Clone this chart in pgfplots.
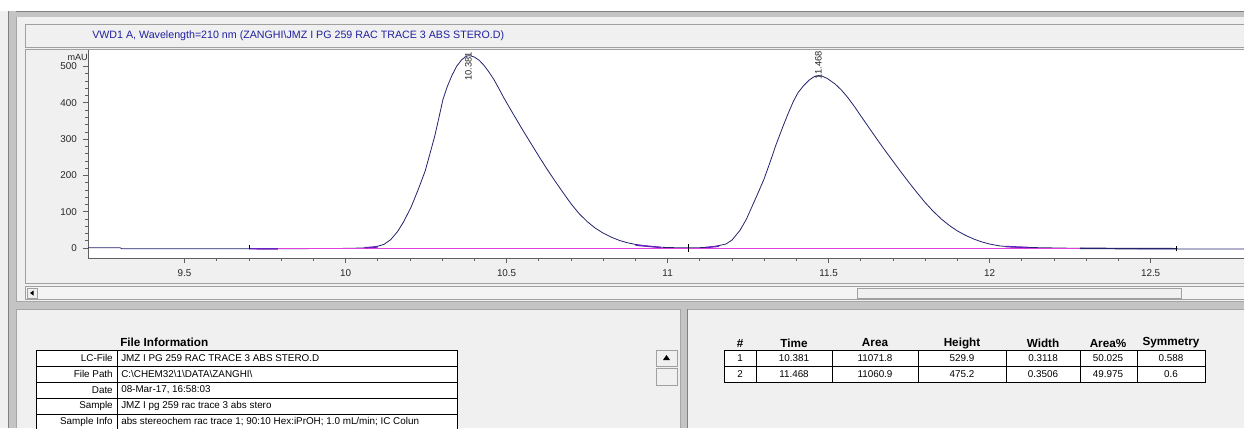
\documentclass[border=0pt]{standalone}
\usepackage{fontspec}
\setmainfont{Liberation Sans}
\usepackage{pgfplots}
\pgfplotsset{compat=1.18}
\definecolor{win}{HTML}{F0F0F0}
\definecolor{frm}{HTML}{A0A0A0}
\definecolor{band}{HTML}{C4C4C4}
\definecolor{trace}{HTML}{24246E}
\definecolor{titleblue}{HTML}{2020A0}
\definecolor{basecol}{HTML}{E040E0}
\definecolor{intcol}{HTML}{6A1FC0}
\begin{document}
\begin{tikzpicture}[x=0.75pt,y=-0.75pt]
\path[use as bounding box] (0,0) rectangle (1244,428);
\clip (0,0) rectangle (1244,428);
% window background
\fill[win] (0,0) rectangle (1244,428);
\fill[white] (0,0) rectangle (1244,11);
\fill[band] (8,11) rectangle (1244,17);
\draw[gray] (8,11.5) -- (1244,11.5);
\fill[band] (8,11) rectangle (16,428);
\draw[gray] (8.5,11) -- (8.5,428);
\draw[gray!70] (16,17) -- (16,428);
% title box
\draw[frm,fill=win] (25.5,24.5) rectangle (1250,47.5);
\node[anchor=west,text=titleblue,font=\fontsize{8}{9}\selectfont,inner sep=0pt] at (92,36) {VWD1 A, Wavelength=210 nm (ZANGHI\textbackslash JMZ I PG 259 RAC TRACE 3 ABS STERO.D)};
% plot panel
\draw[frm,fill=win] (25.5,49.5) rectangle (1250,283);
% horizontal scrollbar
\draw[frm,fill=win!70!white] (25.5,286.5) rectangle (1250,299.5);
\draw[frm,fill=win] (27,288) rectangle (37,298);
\fill[black] (30,293) -- (33.5,290.5) -- (33.5,295.5) -- cycle;
\draw[frm,fill=win] (857,288) rectangle (1181,298);
% divider band
\fill[band] (16,301) rectangle (1244,309);
\draw[gray!70] (16,301) -- (1244,301);
\draw[gray!70] (16,309) -- (1244,309);
% vertical separator of the lower panels
\fill[band] (680,309) rectangle (688,428);
\draw[gray!70] (680,309) -- (680,428);
\draw[gray] (687.5,309) -- (687.5,428);
% left lower panel: scroll buttons
\draw[frm,fill=win] (656,350) rectangle (677,366);
\fill[black] (666.5,355) -- (663,360) -- (670,360) -- cycle;
\draw[frm,fill=win] (656,368) rectangle (677,385);

% ---- File information table ----
\begin{scope}[font=\fontsize{7.4}{9}\selectfont]
\node[font=\fontsize{8.8}{10}\selectfont\bfseries,anchor=west,inner sep=0pt] at (120,342) {File Information};
\fill[white] (36,350) rectangle (457,430);
\draw[black,line width=0.6pt] (36,350) rectangle (457,430);
\foreach \yy in {366,382,398,414} {\draw[black,line width=0.6pt] (36,\yy) -- (457,\yy);}
\draw[black,line width=0.6pt] (117,350) -- (117,430);
\node[anchor=east,inner sep=0pt] at (113,358) {LC-File};
\node[anchor=west,inner sep=0pt] at (121,358) {JMZ I PG 259 RAC TRACE 3 ABS STERO.D};
\node[anchor=east,inner sep=0pt] at (113,374) {File Path};
\node[anchor=west,inner sep=0pt] at (121,374) {C:\textbackslash CHEM32\textbackslash 1\textbackslash DATA\textbackslash ZANGHI\textbackslash};
\node[anchor=east,inner sep=0pt] at (113,390) {Date};
\node[anchor=west,inner sep=0pt] at (121,390) {08-Mar-17, 16:58:03};
\node[anchor=east,inner sep=0pt] at (113,406) {Sample};
\node[anchor=west,inner sep=0pt] at (121,406) {JMZ I pg 259 rac trace 3 abs stero};
\node[anchor=east,inner sep=0pt] at (113,422) {Sample Info};
\node[anchor=west,inner sep=0pt] at (121,422) {abs stereochem rac trace 1; 90:10 Hex:iPrOH; 1.0 mL/min; IC Colun};
\end{scope}

% ---- Peak table ----
\begin{scope}[font=\fontsize{7.4}{9}\selectfont]
\foreach \xx/\hh in {740/\#,794/Time,875/Area,962/Height,1043/Width,1108/Area\%,1171/Symmetry}
  {\node[font=\fontsize{8.8}{10}\selectfont\bfseries,inner sep=0pt] at (\xx,343) {\hh};}
\fill[white] (724,350) rectangle (1205,382);
\draw[black,line width=0.6pt] (724,350) rectangle (1205,382);
\draw[black,line width=0.6pt] (724,366) -- (1205,366);
\foreach \xx in {756,832,918,1006,1080,1137} {\draw[black,line width=0.6pt] (\xx,350) -- (\xx,382);}
\foreach \xx/\v in {740/1,794/10.381,875/11071.8,962/529.9,1043/0.3118,1108/50.025,1171/0.588}
  {\node[inner sep=0pt] at (\xx,358) {\v};}
\foreach \xx/\v in {740/2,794/11.468,875/11060.9,962/475.2,1043/0.3506,1108/49.975,1171/0.6}
  {\node[inner sep=0pt] at (\xx,374) {\v};}
\end{scope}

% ---- chromatogram ----
\begin{axis}[
  at={(66pt,-193.5pt)}, anchor=south west, scale only axis,
  width=867pt, height=156pt,
  xmin=9.2, xmax=12.79, ymin=-27.5, ymax=545.5,
  clip=false,
  axis x line*=bottom, axis y line*=left,
  axis line style={-, color=gray!75!black, line width=0.5pt},
  xtick={9.5,10,10.5,11,11.5,12,12.5},
  xticklabels={9.5,10,10.5,11,11.5,12,12.5},
  minor x tick num=4,
  ytick={0,100,200,300,400,500},
  yticklabels={0,100,200,300,400,500},
  minor y tick num=4,
  tick align=outside,
  major tick length=3.8pt, minor tick length=2.2pt,
  every tick/.style={color=gray!75!black, line width=0.5pt},
  tick label style={font=\fontsize{7.4}{8}\selectfont, text=black!85},
  xticklabel style={yshift=-1.5pt},
  yticklabel style={xshift=-1pt},
  /pgf/number format/assume math mode=true,
  axis background/.style={fill=white},
]
% detector trace
\addplot[trace, line width=0.6pt] coordinates {
(9.20,0.5) (9.30,0.5) (9.305,-2) (9.50,-2) (9.70,-2) (9.79,-2.2) (9.90,-1.5) (10.00,-1) (10.05,0)
(10.08,2) (10.10,5) (10.119,10) (10.14,23) (10.161,45) (10.18,72) (10.204,114) (10.225,160)
(10.247,212) (10.262,260) (10.277,309) (10.29,360) (10.302,408) (10.315,443) (10.33,475)
(10.345,501) (10.36,518) (10.372,527) (10.381,529.9) (10.39,529) (10.40,526) (10.415,517)
(10.43,503) (10.445,485) (10.46,465) (10.475,441) (10.49,416) (10.51,385) (10.53,355)
(10.55,325) (10.575,289) (10.60,253) (10.625,218) (10.65,185) (10.675,153) (10.70,122)
(10.725,95) (10.75,73) (10.775,55) (10.80,41) (10.825,30) (10.85,21) (10.875,14.5)
(10.90,10) (10.925,6.5) (10.95,4) (10.98,2) (11.02,1) (11.065,0.5) (11.10,1) (11.126,2)
(11.15,5) (11.181,11) (11.20,22) (11.225,49) (11.245,80) (11.262,114) (11.28,150)
(11.299,189) (11.318,236) (11.336,283) (11.36,339) (11.375,372) (11.391,405) (11.405,428)
(11.422,447) (11.44,463) (11.455,472) (11.468,475.2) (11.48,473.5) (11.496,467) (11.52,452)
(11.54,435) (11.56,414) (11.58,390) (11.60,364) (11.625,332) (11.65,300) (11.675,269)
(11.70,239) (11.725,209) (11.75,180) (11.775,152) (11.80,125) (11.825,101) (11.85,80)
(11.875,62) (11.90,47) (11.925,35) (11.95,25) (11.975,17) (12.00,11) (12.03,6) (12.06,3.5)
(12.09,2) (12.15,1) (12.28,-1) (12.58,-2) (12.585,-2.5) (12.79,-2.5)
};
% integration baseline
\addplot[basecol, line width=0.6pt] coordinates {(9.70,0) (12.58,0)};
% integration event marks
\addplot[intcol, line width=1.1pt] coordinates {(9.70,-2) (9.79,-2.2)};
\addplot[intcol, line width=1.1pt] coordinates {(10.06,0.8) (10.10,3)};
\addplot[intcol, line width=1.1pt] coordinates {(10.90,8) (10.98,1.5)};
\addplot[intcol, line width=1.1pt] coordinates {(11.12,1.5) (11.16,5)};
\addplot[intcol, line width=1.1pt] coordinates {(12.05,4) (12.12,1.5)};
\addplot[trace, line width=1.1pt] coordinates {(12.28,-1) (12.58,-2)};
% baseline tick marks
\addplot[black, line width=0.5pt] coordinates {(9.70,-2) (9.70,9)};
\addplot[black, line width=0.5pt] coordinates {(11.065,-10) (11.065,10)};
\addplot[black, line width=0.5pt] coordinates {(12.58,-9) (12.58,6)};
% retention time labels
\node[rotate=90, anchor=east, inner sep=0pt, font=\fontsize{7}{8}\selectfont, text=black!85] at (axis cs:10.381,541) {10.381};
\node[rotate=90, anchor=east, inner sep=0pt, font=\fontsize{7}{8}\selectfont, text=black!85] at (axis cs:11.468,543) {11.468};
% unit label
\node[anchor=east, inner sep=0pt, font=\fontsize{6.8}{8}\selectfont, text=black!85] at (axis cs:9.2,526) {mAU\hspace{6pt}};
\end{axis}
\end{tikzpicture}
\end{document}
